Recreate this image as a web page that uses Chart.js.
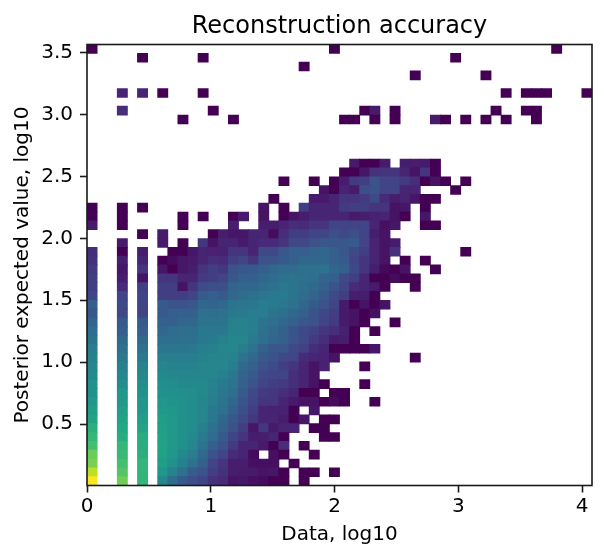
<!DOCTYPE html>
<html>
<head>
<meta charset="utf-8">
<title>Reconstruction accuracy</title>
<script src="https://cdn.jsdelivr.net/npm/chart.js@4/dist/chart.umd.min.js"></script>
<style>
  html, body { margin: 0; padding: 0; background: #fff; }
  canvas { display: block; }
</style>
</head>
<body>
<canvas id="grafico" width="606" height="558"></canvas>
<script>
const _ = null;

// axis limits and bins of the 2d histogram
const xLimits = [0, 4.08];
const yLimits = [0.004, 3.566];
const binCount = 50;
const xTickValues = [0, 1, 2, 3, 4];
const yTickValues = [0.5, 1, 1.5, 2, 2.5, 3, 3.5];

// log density per cell (0-100), one list per y bin from the bottom, one entry per x bin
const rowLevels = [
  [100,_,_,78,_,65,_,46,35,28,24,20,14,12,5,6,4,3,0,0,_,0],
  [90,_,_,73,_,65,_,52,44,37,29,26,18,14,8,7,7,5,6,0,_,0,0,_,0],
  [80,_,_,70,_,65,_,55,50,43,37,30,20,15,8,8,4,4,4,_,0],
  [77,_,_,67,_,63,_,57,52,47,42,34,26,20,12,10,3,_,4,0,_,_,0],
  [70,_,_,66,_,62,_,58,53,50,45,38,30,25,17,10,10,7,0,13,_,0],
  [66,_,_,62,_,62,_,57,53,50,47,41,35,28,20,15,8,8,10,0,_,_,_,0,0],
  [63,_,_,60,_,58,_,56,53,50,48,43,37,31,25,18,6,16,7,10,10,_,0,0],
  [58,_,_,58,_,55,_,55,53,50,48,45,40,33,27,22,16,10,10,8,0,6,_,0,0],
  [55,_,_,55,_,53,_,53,52,50,48,46,40,37,30,24,18,10,9,9,0,_,6],
  [53,_,_,53,_,52,_,52,51,50,48,46,42,38,33,26,20,15,15,10,7,5,5,0,3,0,_,_,0],
  [50,_,_,52,_,50,_,50,50,49,48,47,43,40,36,28,22,17,16,13,10,0,0,_,0,0],
  [50,_,_,48,_,48,_,49,48,47,47,47,44,41,38,30,25,20,18,17,13,10,5,0,_,_,_,0],
  [47,_,_,46,_,46,_,47,46,45,45,46,45,43,40,32,28,22,20,20,13,10,5],
  [46,_,_,43,_,44,_,45,44,44,44,45,46,45,42,34,30,25,23,18,15,10,5,9,_,_,_,0],
  [44,_,_,40,_,40,_,42,42,42,42,44,45,45,44,38,34,28,25,22,20,12,10,9,5,_,_,_,_,_,_,_,0],
  [42,_,_,37,_,37,_,39,39,39,40,42,43,45,46,42,37,30,27,27,22,19,13,10,0,0,0,0,6],
  [38,_,_,34,_,34,_,36,36,37,37,40,41,43,46,45,41,36,33,30,25,22,17,13,7,8,0],
  [36,_,_,30,_,30,_,33,35,36,36,40,40,40,44,44,42,37,34,30,26,22,19,15,13,9,0,_,0],
  [32,_,_,28,_,28,_,30,30,33,33,38,38,38,43,44,42,38,36,33,30,27,25,20,17,7,5,0,_,_,0],
  [27,_,_,22,_,20,_,28,30,30,30,37,36,37,40,41,42,42,38,36,33,30,25,21,18,7,5,0,4],
  [30,_,_,22,_,20,_,28,25,25,27,33,32,33,38,39,40,42,41,40,37,33,28,25,20,7,0,5,0,5],
  [20,_,_,20,_,20,_,18,18,18,20,28,30,28,33,35,37,39,41,41,38,35,32,28,22,18,8,8,0],
  [18,_,_,12,_,18,_,18,18,5,15,23,24,24,32,33,33,35,37,40,38,36,34,30,25,20,12,10,7,0,_,_,0],
  [18,_,_,8,_,5,_,15,15,10,10,17,18,20,27,30,30,33,35,37,38,37,36,32,30,22,18,10,0,0,3,0,0],
  [17,_,_,6,_,15,_,6,0,6,8,15,18,16,25,27,28,30,33,35,35,37,37,38,33,30,22,15,8,2,0,5,_,_,0],
  [14,_,_,8,_,10,_,0,3,6,7,10,13,12,18,20,15,25,25,28,30,33,33,33,30,28,20,15,10,5,_,0,_,0],
  [13,_,_,0,_,8,_,_,0,0,6,10,9,9,15,15,10,22,22,27,30,30,32,33,30,27,22,18,10,5,14,_,_,_,_,_,_,0],
  [_,_,_,7,_,_,_,7,_,0,_,15,5,10,10,7,10,12,12,15,22,22,25,27,27,27,28,20,10,5,7],
  [_,_,_,_,_,0,_,7,_,_,_,_,0,8,6,6,10,10,3,13,18,18,20,20,24,22,24,20,8,5],
  [7,_,_,0,_,_,_,_,_,0,_,_,_,_,8,_,_,8,8,10,13,12,15,15,20,20,20,20,10,4,6,_,_,0,0],
  [0,_,_,0,_,_,_,_,_,0,_,0,_,_,0,7,_,5,_,0,5,8,10,10,10,10,7,8,9,10,5,0,_,6],
  [0,_,_,0,_,0,_,_,_,_,_,_,_,_,_,_,_,5,_,0,_,18,10,10,10,17,18,18,15,15,5,6,_,0],
  [_,_,_,_,_,_,_,_,_,_,_,_,_,_,_,_,_,_,0,_,_,_,7,7,10,15,15,17,22,12,8,10,6,0,0],
  [_,_,_,_,_,_,_,_,_,_,_,_,_,_,_,_,_,_,_,_,_,_,_,5,0,10,7,24,25,20,20,10,10,_,_,_,0],
  [_,_,_,_,_,_,_,_,_,_,_,_,_,_,_,_,_,_,_,0,_,_,0,_,0,8,17,18,25,20,20,17,13,0,5,0,_,0],
  [_,_,_,_,_,_,_,_,_,_,_,_,_,_,_,_,_,_,_,_,_,_,_,_,_,0,0,6,14,15,15,10,5,15,0],
  [_,_,_,_,_,_,_,_,_,_,_,_,_,_,_,_,_,_,_,_,_,_,_,_,_,_,7,0,0,7,_,8,8,7,0],
  [],
  [],
  [],
  [],
  [_,_,_,_,_,_,_,_,_,0,_,_,_,_,0,_,_,_,_,_,_,_,_,_,_,0,0,_,0,_,0,_,_,_,7,0,_,0,_,0,_,0,_,_,0],
  [_,_,_,13,_,_,_,_,_,_,_,_,0,_,_,_,_,_,_,_,_,_,_,_,_,_,_,0,7,_,0,_,_,_,_,_,_,_,_,_,0,_,_,0,0],
  [],
  [_,_,_,10,_,10,_,0,_,_,_,0,_,_,_,_,_,_,_,_,_,_,_,_,_,_,_,_,_,_,_,_,_,_,_,_,_,_,_,_,_,0,_,0,0,0,_,_,_,0],
  [],
  [_,_,_,_,_,_,_,_,_,_,_,_,_,_,_,_,_,_,_,_,_,_,_,_,_,_,_,_,_,_,_,_,0,_,_,_,_,_,_,0],
  [_,_,_,_,_,_,_,_,_,_,_,_,_,_,_,_,_,_,_,_,_,0],
  [_,_,_,_,_,0,_,_,_,_,_,0,_,_,_,_,_,_,_,_,_,_,_,_,_,_,_,_,_,_,_,_,_,_,_,_,0],
  [0,_,_,_,_,_,_,_,_,_,_,_,_,_,_,_,_,_,_,_,_,_,_,_,0,_,_,_,_,_,_,_,_,_,_,_,_,_,_,_,_,_,_,_,_,_,0],
];

// viridis colormap, evenly spaced stops
const viridis = [
  [68, 1, 84], [72, 36, 117], [65, 68, 135], [53, 95, 141], [42, 120, 142],
  [33, 145, 140], [34, 168, 132], [68, 191, 112], [122, 209, 81], [189, 223, 38], [253, 231, 37],
];

const corDoNivel = (nivel) => {
  const pos = (nivel / 100) * (viridis.length - 1);
  const i = Math.min(Math.floor(pos), viridis.length - 2);
  const f = pos - i;
  const c = viridis[i].map((v, k) => Math.round(v + (viridis[i + 1][k] - v) * f));
  return `rgb(${c[0]}, ${c[1]}, ${c[2]})`;
};

const xStep = (xLimits[1] - xLimits[0]) / binCount;
const yStep = (yLimits[1] - yLimits[0]) / binCount;

// one bar dataset per y bin, each cell is a floating bar
const datasets = rowLevels.map((linha, j) => {
  const data = [];
  linha.forEach((nivel, i) => {
    if (nivel !== null) {
      data.push({
        x: xLimits[0] + xStep * (i + 0.5),
        y: [yLimits[0] + yStep * j, yLimits[0] + yStep * (j + 1)],
        nivel: nivel,
      });
    }
  });
  return {
    data: data,
    backgroundColor: (ctx) => (ctx.raw ? corDoNivel(ctx.raw.nivel) : "#000"),
    borderWidth: 0,
    inflateAmount: 0.4,
    grouped: false,
    barPercentage: 1,
    categoryPercentage: 1,
  };
});

// frame around the plot, drawn over the cells
const moldura = {
  id: "moldura",
  afterDraw(chart) {
    const { ctx, chartArea: a } = chart;
    ctx.save();
    ctx.strokeStyle = "#1a1a1a";
    ctx.lineWidth = 1.6;
    ctx.strokeRect(a.left, a.top, a.right - a.left, a.bottom - a.top);
    ctx.restore();
  },
};

const fonte = (size) => ({ family: "'DejaVu Sans'", size: size, weight: "normal", lineHeight: 1 });

const eixo = (min, max, valores, titulo, extra) => ({
  type: "linear",
  min: min,
  max: max,
  offset: false,
  afterBuildTicks: (scale) => {
    scale.ticks = valores.map((v) => ({ value: v }));
  },
  grid: {
    offset: false,
    drawOnChartArea: false,
    drawTicks: true,
    tickLength: 7,
    tickWidth: 1.6,
    tickColor: "#1a1a1a",
  },
  border: { display: false },
  title: { display: true, text: titulo, color: "#000", font: fonte(20), padding: extra.titlePadding },
  ticks: {
    color: "#000",
    font: fonte(20),
    padding: extra.tickPadding,
    maxRotation: 0,
    autoSkip: false,
    callback: extra.callback,
  },
  afterFit: extra.afterFit,
});

new Chart(document.getElementById("grafico"), {
  type: "bar",
  data: { datasets: datasets },
  options: {
    responsive: false,
    animation: false,
    layout: { padding: { left: 0, right: 14, top: 0, bottom: 0 } },
    plugins: {
      legend: { display: false },
      tooltip: { enabled: false },
      title: {
        display: true,
        fullSize: false,
        text: "Reconstruction accuracy",
        color: "#000",
        font: fonte(24),
        padding: { top: 15, bottom: 5.5 },
      },
    },
    scales: {
      x: eixo(xLimits[0], xLimits[1], xTickValues, "Data, log10", {
        titlePadding: { top: 0, bottom: 13 },
        tickPadding: 4,
        callback: (v) => String(v),
        afterFit: (scale) => { scale.height = 72.5; },
      }),
      y: eixo(yLimits[0], yLimits[1], yTickValues, "Posterior expected value, log10", {
        titlePadding: { top: 12.6, bottom: 0 },
        tickPadding: 7,
        callback: (v) => v.toFixed(1),
        afterFit: (scale) => { scale.width = 87; },
      }),
    },
  },
  plugins: [moldura],
});
</script>
</body>
</html>
